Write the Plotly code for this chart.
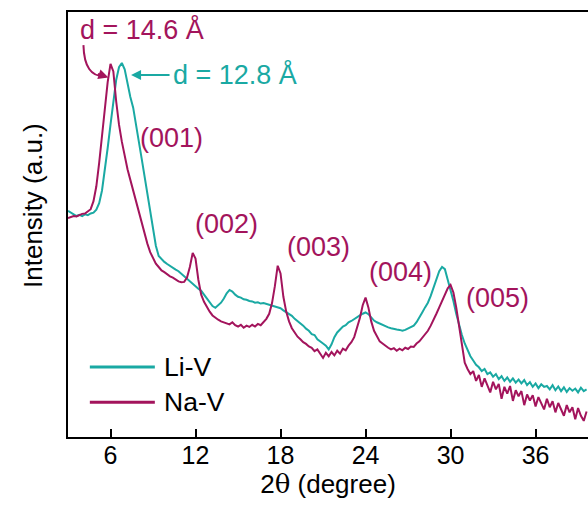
import numpy as np
import plotly.graph_objects as go

# 2-theta grid start / step (degrees)
x_start = 3.0
x_step = 0.2

li_v = [
    53.2, 52.8, 52.4, 52.0, 52.3, 52.0, 52.4, 52.2, 52.6, 52.8,
    53.5, 55.0, 58.0, 62.5, 68.0, 73.5, 79.0, 84.0, 87.0, 88.0,
    86.5, 83.0, 80.0, 77.5, 73.0, 69.5, 65.5, 61.5, 57.5, 53.5,
    49.0, 45.0, 42.6, 41.8, 41.2, 40.7, 40.2, 39.8, 39.4, 39.0,
    38.4, 37.8, 37.2, 36.5, 35.9, 35.4, 34.9, 34.4, 33.5, 32.6,
    31.6, 30.8, 30.4, 30.9, 31.6, 32.6, 33.8, 34.6, 34.2, 33.5,
    33.0, 32.8, 32.4, 32.3, 32.0, 31.9, 31.6, 31.7, 31.4, 31.5,
    31.3, 31.2, 31.0, 30.8, 30.5, 30.3, 29.8, 29.4, 29.0, 28.5,
    27.8, 27.3, 26.7, 26.2, 25.5, 25.0, 24.2, 24.0, 23.0, 22.6,
    22.0, 21.5, 20.6, 21.8, 23.5, 24.6, 25.2, 26.0, 26.3, 27.0,
    27.3, 27.8, 28.1, 28.6, 29.0, 29.3, 28.9, 28.0, 27.4, 27.0,
    26.7, 26.3, 26.0, 25.8, 25.6, 25.4, 25.3, 25.2, 25.0, 25.2,
    25.5, 25.8, 26.2, 27.0, 28.0, 29.3, 30.5, 31.6, 33.2, 35.0,
    37.0, 39.0, 40.0, 39.5, 37.0, 34.6, 32.0, 29.0, 26.2, 24.0,
    22.0, 20.5, 19.0, 18.0, 17.0, 16.4, 15.5, 16.0, 14.8, 15.2,
    14.2, 14.8, 13.6, 14.3, 13.2, 14.0, 13.0, 13.8, 12.8, 13.5,
    12.6, 13.4, 12.2, 12.9, 11.8, 12.6, 11.5, 12.4, 11.8, 12.0,
    11.2, 12.2, 11.0, 11.9, 10.8, 11.7, 10.6, 11.5, 10.9, 11.4,
    10.5, 11.6, 10.8, 11.2,
]

na_v = [
    51.5, 51.8, 52.0, 51.9, 52.2, 52.5, 52.6, 53.0, 53.6, 55.5,
    59.0, 64.5, 70.5, 77.0, 83.5, 87.8, 86.0, 79.0, 73.5, 69.5,
    66.0, 63.0, 60.5, 58.0, 55.5, 52.5, 50.0, 47.5, 45.5, 43.5,
    42.0, 40.8, 40.0, 39.2, 38.8, 38.2, 37.8, 37.5, 37.0, 36.6,
    36.4, 36.5, 37.5, 40.0, 43.3, 42.0, 37.0, 33.5, 31.8, 30.5,
    29.5, 28.6, 28.0, 27.6, 27.2, 27.0, 26.8, 26.5, 27.0, 26.3,
    26.0, 26.4, 25.7, 26.2, 25.9, 26.4, 26.0, 26.6, 26.3, 27.0,
    27.8, 29.0, 31.5, 35.5, 40.3, 38.5, 33.0, 29.5, 27.2, 25.6,
    24.5, 23.6, 23.0, 22.3, 21.9, 21.3, 21.0, 20.2, 20.6, 19.5,
    18.6, 19.8, 19.0, 20.0, 19.2, 20.3, 19.6, 20.8, 20.4, 21.5,
    22.3, 23.5, 25.5, 28.0, 31.0, 32.8, 30.5, 27.2, 25.0, 23.6,
    22.5, 22.0, 21.4, 21.0, 20.6, 20.9, 20.3, 20.8, 20.4, 21.0,
    20.7, 21.3, 21.2, 22.0, 22.5, 23.3, 24.0, 25.0, 26.2, 27.5,
    29.0, 30.5, 32.0, 33.5, 35.0, 35.8, 34.0, 30.5, 26.0, 21.0,
    17.5, 16.0, 14.8, 15.5, 13.2, 14.6, 11.8, 13.8, 12.0, 10.5,
    13.0, 11.2, 12.5, 9.0, 11.8, 10.2, 12.0, 8.5, 11.0, 9.6,
    10.8, 7.5, 10.0, 8.6, 9.8, 7.2, 9.4, 8.0, 6.5, 9.0,
    7.0, 8.4, 5.8, 8.0, 6.6, 5.0, 7.5, 5.8, 7.0, 4.2,
    6.8, 5.0, 3.8, 6.0,
]

series_names = ["Li-V", "Na-V"]
peak_labels = ["(001)", "(002)", "(003)", "(004)", "(005)"]
peak_label_x = [10.3, 14.2, 20.7, 26.5, 33.3]
peak_label_y = [70.4, 50.1, 44.7, 38.8, 32.7]
tick_vals = [6, 12, 18, 24, 30, 36]

TEAL = "#1AA9A3"
MAROON = "#A3145C"
FONT = "Liberation Sans, Arial, sans-serif"
ANN = 27

x_li = x_start + x_step * np.arange(len(li_v))
x_na = x_start + x_step * np.arange(len(na_v))

fig = go.Figure()
fig.add_trace(go.Scatter(x=x_li, y=li_v, mode="lines", name=series_names[0],
                         line=dict(color=TEAL, width=2), showlegend=False))
fig.add_trace(go.Scatter(x=x_na, y=na_v, mode="lines", name=series_names[1],
                         line=dict(color=MAROON, width=2), showlegend=False))

annotations = []
for t, ax_, ay_ in zip(peak_labels, peak_label_x, peak_label_y):
    annotations.append(dict(x=ax_, y=ay_, text=t, showarrow=False,
                            xanchor="center", yanchor="middle",
                            font=dict(size=ANN, color=MAROON, family=FONT)))

# d-spacing labels
annotations.append(dict(x=8.22, y=95.8, text="d = 14.6 Å", showarrow=False,
                        xanchor="center", yanchor="middle",
                        font=dict(size=ANN, color=MAROON, family=FONT)))
annotations.append(dict(x=10.3, y=85.2, text="d = 12.8 Å", showarrow=False,
                        xanchor="left", yanchor="middle",
                        font=dict(size=ANN, color=TEAL, family=FONT)))
# teal straight arrow
annotations.append(dict(x=7.45, y=85.2, ax=40, ay=0, text="", showarrow=True,
                        arrowhead=2, arrowsize=1, arrowwidth=2, arrowcolor=TEAL))
# maroon arrow head (curve drawn as shape)
annotations.append(dict(x=5.85, y=84.6, ax=-12, ay=-4, text="", showarrow=True,
                        arrowhead=2, arrowsize=1, arrowwidth=2, arrowcolor=MAROON))

# y axis title
annotations.append(dict(xref="paper", yref="paper", x=-0.067, y=0.544,
                        xanchor="center", yanchor="middle",
                        text="Intensity (a.u.)", textangle=-90, showarrow=False,
                        font=dict(size=26, color="black", family=FONT)))

# legend (manual)
annotations.append(dict(xref="paper", yref="paper", x=0.181, y=0.165,
                        xanchor="left", yanchor="middle", text=series_names[0],
                        showarrow=False,
                        font=dict(size=26.5, color="black", family=FONT)))
annotations.append(dict(xref="paper", yref="paper", x=0.181, y=0.082,
                        xanchor="left", yanchor="middle", text=series_names[1],
                        showarrow=False,
                        font=dict(size=26.5, color="black", family=FONT)))

shapes = [
    dict(type="path", xref="x", yref="y",
         path="M 4.09,92.2 Q 4.15,84.6 5.6,84.9",
         line=dict(color=MAROON, width=2)),
    dict(type="line", xref="paper", yref="paper", x0=0.042, x1=0.167,
         y0=0.165, y1=0.165, line=dict(color=TEAL, width=3)),
    dict(type="line", xref="paper", yref="paper", x0=0.042, x1=0.167,
         y0=0.082, y1=0.082, line=dict(color=MAROON, width=3)),
]

fig.update_layout(
    width=588, height=508,
    margin=dict(l=68, r=0, t=12, b=71),
    paper_bgcolor="white", plot_bgcolor="white",
    font=dict(family=FONT, size=25, color="black"),
    annotations=annotations, shapes=shapes,
    showlegend=False,
)
fig.update_xaxes(
    range=[3.0, 39.7], tickvals=tick_vals, ticks="inside", ticklen=8,
    tickwidth=2, tickcolor="black", showline=True, linecolor="black",
    linewidth=2, mirror=True, showgrid=False, zeroline=False,
    tickfont=dict(size=25, family=FONT), ticklabelstandoff=-5,
    title=dict(text="2<span style='font-family:DejaVu Serif'>θ</span> (degree)",
               font=dict(size=26, family=FONT), standoff=0),
)
fig.update_yaxes(
    range=[0, 100], showticklabels=False, ticks="", showline=True,
    linecolor="black", linewidth=2, showgrid=False, zeroline=False,
)

fig.write_html("out.html")
